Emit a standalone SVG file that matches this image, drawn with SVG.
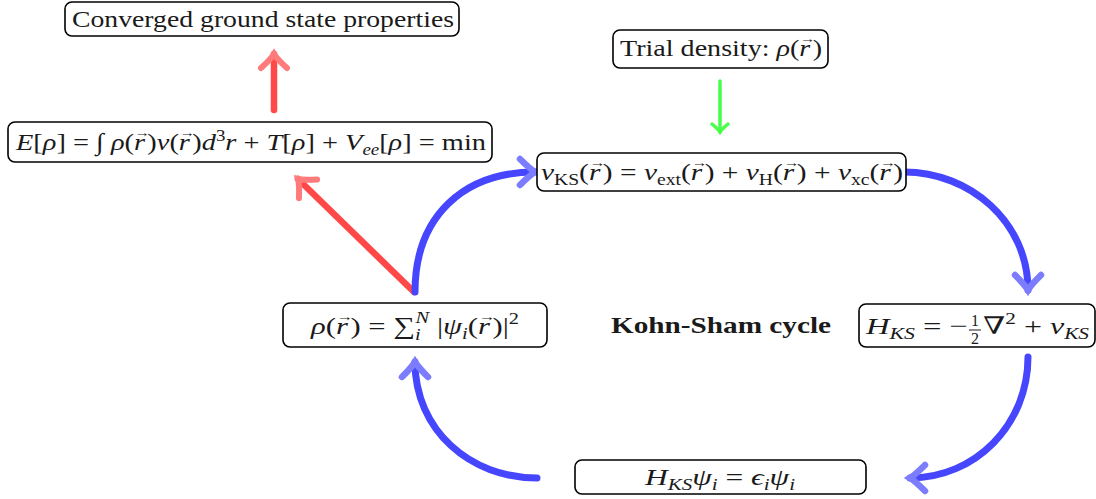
<svg xmlns="http://www.w3.org/2000/svg" width="1096" height="499" viewBox="0 0 1096 499">
<style>
.box{fill:#fff;stroke:#000;stroke-width:1.6}
.t{font-family:"Liberation Serif","DejaVu Serif",serif;font-size:24px;fill:#1a1a1a;text-anchor:middle}
.st{text-anchor:start}
.i{font-style:italic}
.s{font-size:16px}
.v{font-size:13px;font-style:normal}
.b{font-weight:bold}
.blue{fill:none;stroke:#4646ff;stroke-width:7;stroke-linecap:round}
.red{fill:none;stroke:#ff4848;stroke-width:6.5;stroke-linecap:round}
.green{fill:none;stroke:#48ff48;stroke-width:3.5;stroke-linecap:round}
</style>
<defs>
<marker id="hb" markerUnits="userSpaceOnUse" viewBox="-20 -20 30 40" markerWidth="30" markerHeight="40" refX="0" refY="0" orient="auto" overflow="visible">
<path d="M-15,-13 Q-5,-3 0,0 Q-5,3 -15,13" fill="none" stroke="#7c7cff" stroke-width="6.5" stroke-linecap="round"/>
</marker>
<marker id="hr" markerUnits="userSpaceOnUse" viewBox="-20 -20 30 40" markerWidth="30" markerHeight="40" refX="0" refY="0" orient="auto" overflow="visible">
<path d="M-14,-13 Q-5,-3 0,0 Q-5,3 -14,13" fill="none" stroke="#ff7a7a" stroke-width="6" stroke-linecap="round"/>
</marker>
<marker id="hg" markerUnits="userSpaceOnUse" viewBox="-20 -20 30 40" markerWidth="30" markerHeight="40" refX="0" refY="0" orient="auto" overflow="visible">
<path d="M-8,-8 Q-3,-2 0,0 Q-3,2 -8,8" fill="none" stroke="#48ff48" stroke-width="3.5" stroke-linecap="round"/>
</marker>
</defs>

<g id="connectors">
<path class="red" d="M274,110 L274,54" marker-end="url(#hr)"/>
<path class="red" d="M414,292 L298,179" marker-end="url(#hr)"/>
<path class="green" d="M720,81 L720,132" marker-end="url(#hg)"/>
<path class="blue" d="M415,292 C415,215 465,172 535,172" marker-end="url(#hb)"/>
<path class="blue" d="M904,172 C970,172 1028,222 1028,290" marker-end="url(#hb)"/>
<path class="blue" d="M1028,357 C1028,425 975,478 910,478" marker-end="url(#hb)"/>
<path class="blue" d="M537,478 C470,478 415,430 415,362" marker-end="url(#hb)"/>
</g>

<g id="converged">
<rect class="box" x="65" y="2" width="394" height="34" rx="7"/>
<text class="t" x="263" y="27" textLength="382" lengthAdjust="spacingAndGlyphs">Converged ground state properties</text>
</g>

<g id="energy">
<rect class="box" x="8" y="122" width="484" height="40" rx="7"/>
<text class="t" x="251" y="150" textLength="470" lengthAdjust="spacingAndGlyphs"><tspan class="i">E</tspan>[<tspan class="i">ρ</tspan>] = ∫ <tspan class="i">ρ</tspan>(<tspan class="i">r</tspan><tspan class="v" dx="-9" dy="-13">→</tspan><tspan dy="13" dx="-2">)</tspan><tspan class="i">v</tspan>(<tspan class="i">r</tspan><tspan class="v" dx="-9" dy="-13">→</tspan><tspan dy="13" dx="-2">)</tspan><tspan class="i">d</tspan><tspan class="s" dy="-9">3</tspan><tspan class="i" dy="9">r</tspan> + <tspan class="i">T</tspan>[<tspan class="i">ρ</tspan>] + <tspan class="i">V</tspan><tspan class="i s" dy="5">ee</tspan><tspan dy="-5">[</tspan><tspan class="i">ρ</tspan>] = min</text>
</g>

<g id="trial">
<rect class="box" x="613" y="30" width="215" height="38" rx="7"/>
<text class="t" x="721" y="56" textLength="202" lengthAdjust="spacingAndGlyphs">Trial density:  <tspan class="i">ρ</tspan>(<tspan class="i">r</tspan><tspan class="v" dx="-9" dy="-13">→</tspan><tspan dy="13" dx="-2">)</tspan></text>
</g>

<g id="vks">
<rect class="box" x="537" y="153" width="369" height="38" rx="7"/>
<text class="t" x="722" y="180" textLength="362" lengthAdjust="spacingAndGlyphs"><tspan class="i">v</tspan><tspan class="s" dy="5">KS</tspan><tspan dy="-5">(</tspan><tspan class="i">r</tspan><tspan class="v" dx="-9" dy="-13">→</tspan><tspan dy="13" dx="-2">)</tspan> = <tspan class="i">v</tspan><tspan class="s" dy="5">ext</tspan><tspan dy="-5">(</tspan><tspan class="i">r</tspan><tspan class="v" dx="-9" dy="-13">→</tspan><tspan dy="13" dx="-2">)</tspan> + <tspan class="i">v</tspan><tspan class="s" dy="5">H</tspan><tspan dy="-5">(</tspan><tspan class="i">r</tspan><tspan class="v" dx="-9" dy="-13">→</tspan><tspan dy="13" dx="-2">)</tspan> + <tspan class="i">v</tspan><tspan class="s" dy="5">xc</tspan><tspan dy="-5">(</tspan><tspan class="i">r</tspan><tspan class="v" dx="-9" dy="-13">→</tspan><tspan dy="13" dx="-2">)</tspan></text>
</g>

<g id="rho">
<rect class="box" x="283" y="303" width="264" height="44" rx="7"/>
<text class="t" x="415" y="334" textLength="208" lengthAdjust="spacingAndGlyphs"><tspan class="i">ρ</tspan>(<tspan class="i">r</tspan><tspan class="v" dx="-9" dy="-13">→</tspan><tspan dy="13" dx="-2">)</tspan> = ∑<tspan class="i s" dy="6">i</tspan><tspan class="i s" dx="-4" dy="-17">N</tspan><tspan dy="11"> |</tspan><tspan class="i">ψ</tspan><tspan class="i s" dy="5">i</tspan><tspan dy="-5">(</tspan><tspan class="i">r</tspan><tspan class="v" dx="-9" dy="-13">→</tspan><tspan dy="13" dx="-2">)</tspan>|<tspan class="s" dy="-10">2</tspan></text>
</g>

<g id="hks">
<rect class="box" x="859" y="304" width="236" height="43" rx="7"/>
<text class="t st" x="866" y="334" textLength="102" lengthAdjust="spacingAndGlyphs"><tspan class="i">H</tspan><tspan class="i s" dy="5">KS</tspan><tspan dy="-5"> = −</tspan></text>
<text class="t s" x="975" y="326">1</text>
<text class="t s" x="975" y="344">2</text>
<line x1="969" y1="330" x2="981" y2="330" stroke="#1a1a1a" stroke-width="1"/>
<text class="t st" x="983" y="334" textLength="106" lengthAdjust="spacingAndGlyphs">∇<tspan class="s" dy="-10">2</tspan><tspan dy="10"> + </tspan><tspan class="i">v</tspan><tspan class="i s" dy="5">KS</tspan></text>
</g>

<g id="hpsi">
<rect class="box" x="575" y="460" width="291" height="34" rx="7"/>
<text class="t" x="720" y="485" textLength="150" lengthAdjust="spacingAndGlyphs"><tspan class="i">H</tspan><tspan class="i s" dy="5">KS</tspan><tspan class="i" dy="-5">ψ</tspan><tspan class="i s" dy="5">i</tspan><tspan dy="-5"> = </tspan><tspan class="i">ϵ</tspan><tspan class="i s" dy="5">i</tspan><tspan class="i" dy="-5">ψ</tspan><tspan class="i s" dy="5">i</tspan></text>
</g>

<g id="label">
<text class="t b" x="721" y="333" textLength="220" lengthAdjust="spacingAndGlyphs">Kohn-Sham cycle</text>
</g>
</svg>
